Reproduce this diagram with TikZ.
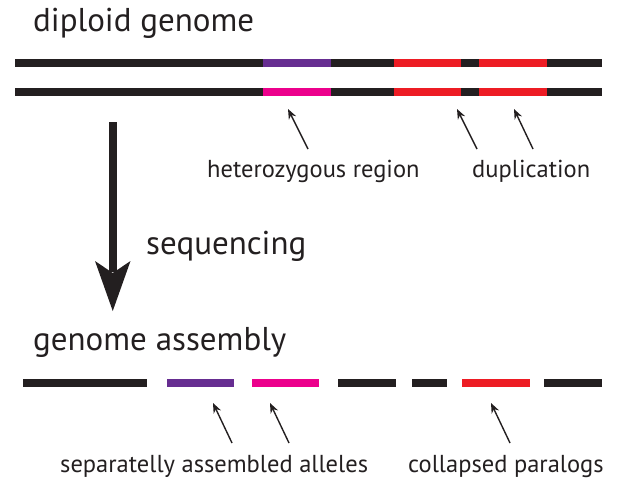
\documentclass[tikz,border=0pt]{standalone}
\usepackage{fontspec}
\setmainfont{PT Sans}
\definecolor{ink}{HTML}{231F20}
\definecolor{purp}{HTML}{662D91}
\definecolor{mag}{HTML}{EC008C}
\definecolor{redd}{HTML}{ED1C24}
\tikzset{
  seg/.style={line width=8pt},
  ptr/.style={line width=1.4pt, draw=ink, -{Stealth[length=10pt,width=8pt]}},
  big/.style={font=\fontsize{33}{36}\selectfont, text=ink, inner sep=0pt, anchor=base west},
  small/.style={font=\fontsize{24.5}{27}\selectfont, text=ink, inner sep=0pt, anchor=base west}
}
\usetikzlibrary{arrows.meta}
\begin{document}
\begin{tikzpicture}[x=1pt,y=-1pt]
\useasboundingbox (0,0) rectangle (628,492);
% titles
\node[big] (t1) at (33,32) {diploid genome};
\node[big] (t2) at (33,350) {genome assembly};
\node[big] (seq) at (146,254) {sequencing};
% diploid lines
\foreach \y/\c in {63/purp, 92.5/mag}{
  \draw[seg,ink] (15,\y) -- (602,\y);
  \draw[seg,\c] (263,\y) -- (331,\y);
  \draw[seg,redd] (394,\y) -- (461,\y);
  \draw[seg,redd] (479,\y) -- (547,\y);
}
% assembly
\draw[seg,ink] (23,382.5) -- (147,382.5);
\draw[seg,purp] (167,382.5) -- (234,382.5);
\draw[seg,mag] (252,382.5) -- (319,382.5);
\draw[seg,ink] (338,382.5) -- (396,382.5);
\draw[seg,ink] (412,382.5) -- (447,382.5);
\draw[seg,redd] (462,382.5) -- (530,382.5);
\draw[seg,ink] (544,382.5) -- (602,382.5);
% big arrow
\fill[ink] (109,122) rectangle (116.5,272);
\fill[ink] (95,261) -- (112.75,273) -- (130.5,261) -- (112.75,311) -- cycle;
% labels
\node[small] (het) at (207,177) {heterozygous region};
\node[small] (dup) at (472,177) {duplication};
\node[small] (sep) at (60,472) {separatelly assembled alleles};
\node[small] (col) at (408,472) {collapsed paralogs};
% pointers
\coordinate (a1s) at (308,149); \coordinate (a1e) at (288,109);
\coordinate (a2s) at (477,149); \coordinate (a2e) at (457,109);
\coordinate (a3s) at (533,149); \coordinate (a3e) at (514,109);
\coordinate (b1s) at (232,443); \coordinate (b1e) at (213,403);
\coordinate (b2s) at (289,443); \coordinate (b2e) at (270,403);
\coordinate (b3s) at (510,443); \coordinate (b3e) at (491,403);
\foreach \p in {a1,a2,a3,b1,b2,b3}{\draw[ptr] (\p s) -- (\p e);}
\end{tikzpicture}
\end{document}
